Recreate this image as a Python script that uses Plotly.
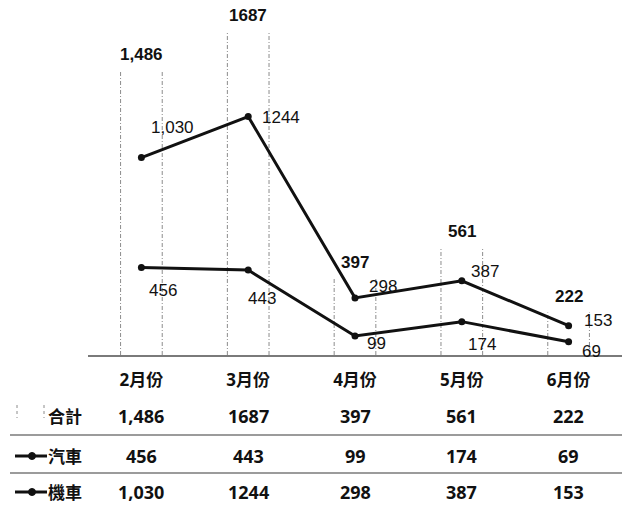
import plotly.graph_objects as go

# Monthly counts
months = ["2月份", "3月份", "4月份", "5月份", "6月份"]
total = [1486, 1687, 397, 561, 222]        # 合計
car = [456, 443, 99, 174, 69]              # 汽車
moto = [1030, 1244, 298, 387, 153]         # 機車
total_text = ["1,486", "1687", "397", "561", "222"]
car_text = ["456", "443", "99", "174", "69"]
moto_text = ["1,030", "1244", "298", "387", "153"]
row_names = ["合計", "汽車", "機車"]

W, H = 626, 506
ML, MR, MT, MB = 88, 4, 10, 151
PW, PH = W - ML - MR, H - MT - MB
YMAX = 1800
BAR_W = 0.39

LABEL_FONT = "Liberation Sans, Arial, Noto Sans CJK TC, sans-serif"
TABLE_FONT = "Noto Sans, Noto Sans CJK TC, sans-serif"
INK = "#111111"


def px_x(px):
    return (px - ML) / PW


def px_y(py):
    return (H - MB - py) / PH


x = list(range(len(months)))
fig = go.Figure()

# total as hollow bars: only the dotted side edges are drawn
fig.add_trace(go.Bar(x=x, y=total, width=BAR_W, name="合計",
                     marker=dict(color="rgba(0,0,0,0)", line=dict(width=0)),
                     showlegend=False, hoverinfo="skip"))
sx, sy = [], []
for i, t in zip(x, total):
    for side in (-BAR_W / 2, BAR_W / 2):
        sx += [i + side, i + side, None]
        sy += [0, t, None]
fig.add_trace(go.Scatter(x=sx, y=sy, mode="lines", showlegend=False,
                         hoverinfo="skip",
                         line=dict(color="#8c8c8c", width=1, dash="4px,2px,1px,2px")))

for name, vals in (("機車", moto), ("汽車", car)):
    fig.add_trace(go.Scatter(x=x, y=vals, mode="lines+markers", name=name,
                             showlegend=False,
                             line=dict(color=INK, width=3),
                             marker=dict(color=INK, size=7)))

ann = []
# totals above the bars
for i, t, s in zip(x, total, total_text):
    ann.append(dict(x=i, y=t, xref="x", yref="y", text=s, showarrow=False,
                    yanchor="middle", yshift=16,
                    font=dict(family=LABEL_FONT, size=17, color=INK, weight="bold")))

# point labels (pixel offsets from each marker)
moto_off = [(31, 30), (33, -1), (28, 11), (23, 9), (29, 5)]
car_off = [(22, -23), (14, -28), (21, -7), (20, -23), (23, -10)]
for vals, texts, offs in ((moto, moto_text, moto_off), (car, car_text, car_off)):
    for i, v, s, (dx, dy) in zip(x, vals, texts, offs):
        ann.append(dict(x=i, y=v, xref="x", yref="y", text=s, showarrow=False,
                        xshift=dx, yshift=dy, yanchor="middle",
                        font=dict(family=LABEL_FONT, size=17, color=INK)))

# data table below the axis
row_y = [416, 456, 492]
for py, name, texts in zip(row_y, row_names, (total_text, car_text, moto_text)):
    ann.append(dict(x=px_x(65), y=px_y(py), xref="paper", yref="paper",
                    text=name, showarrow=False, xanchor="center", yanchor="middle",
                    font=dict(family=TABLE_FONT, size=17, color=INK, weight="bold")))
    for i, s in zip(x, texts):
        ann.append(dict(x=i, y=px_y(py), xref="x", yref="paper", text=s,
                        showarrow=False, xanchor="center", yanchor="middle",
                        font=dict(family=TABLE_FONT, size=18, color=INK, weight="bold")))

shapes = []
for py in (435, 473):
    shapes.append(dict(type="line", xref="paper", yref="paper",
                       x0=px_x(10), x1=1, y0=px_y(py), y1=px_y(py),
                       line=dict(color="#7a7a7a", width=1.5)))
# legend keys in the table
for py in (456, 492):
    shapes.append(dict(type="line", xref="paper", yref="paper",
                       x0=px_x(15), x1=px_x(47), y0=px_y(py), y1=px_y(py),
                       line=dict(color=INK, width=3)))
    shapes.append(dict(type="circle", xref="paper", yref="paper",
                       xsizemode="pixel", ysizemode="pixel",
                       xanchor=px_x(32), yanchor=px_y(py),
                       x0=-3.5, x1=3.5, y0=-3.5, y1=3.5,
                       fillcolor=INK, line=dict(color=INK, width=1)))
for kx in (17, 44):
    shapes.append(dict(type="line", xref="paper", yref="paper",
                       x0=px_x(kx), x1=px_x(kx), y0=px_y(405), y1=px_y(418),
                       line=dict(color="#8c8c8c", width=1, dash="dot")))

fig.update_layout(
    width=W, height=H,
    margin=dict(l=ML, r=MR, t=MT, b=MB),
    paper_bgcolor="white", plot_bgcolor="white",
    annotations=ann, shapes=shapes,
    bargap=0,
    xaxis=dict(range=[-0.5, len(months) - 0.5], tickvals=x, ticktext=months,
               showgrid=False, zeroline=False, showline=True,
               linecolor="#7a7a7a", linewidth=1.5, ticks="",
               ticklabelstandoff=9,
               tickfont=dict(family=TABLE_FONT, size=17, color=INK, weight="bold")),
    yaxis=dict(range=[0, YMAX], visible=False, showgrid=False, zeroline=False),
    font=dict(family=LABEL_FONT, color=INK),
)

fig.write_html("out.html")
